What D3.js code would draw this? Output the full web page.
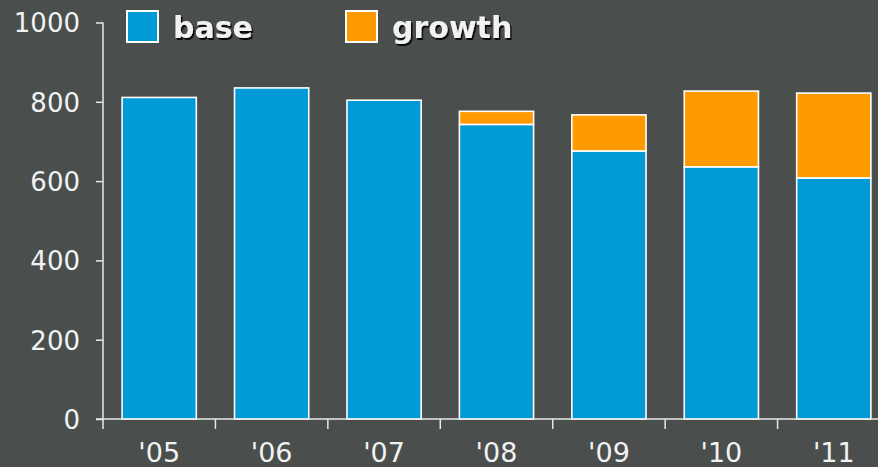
<!DOCTYPE html>
<html>
<head>
<meta charset="utf-8">
<script src="https://cdn.jsdelivr.net/npm/d3@7"></script>
<style>
  body { margin: 0; background: #4a4e4d; }
  svg { display: block; }
  text { font-family: "DejaVu Sans", Verdana, sans-serif; fill: #f2f2f2; }
</style>
</head>
<body>
<div id="viz"></div>
<script>
let years = ["'05", "'06", "'07", "'08", "'09", "'10", "'11"];
let base = [811, 835, 804, 743, 676, 636, 608];
let growth = [0, 0, 0, 33, 91, 191, 214];
let series_names = ['base', 'growth'];
let colors = ['#009bd6', '#ff9a00'];
let y_ticks = [0, 200, 400, 600, 800, 1000];

const width = 878, height = 467;
const x0 = 103, x1 = 890, y_bottom = 419, y_top = 22.5;

const svg = d3.select('#viz').append('svg')
    .attr('width', width)
    .attr('height', height);

svg.append('rect').attr('width', width).attr('height', height).attr('fill', '#4a4e4d');

const x = d3.scaleBand().domain(years).range([x0, x1]).paddingInner(0.34).paddingOuter(0.17);
const y = d3.scaleLinear().domain([0, 1000]).range([y_bottom, y_top]);

// stacked data
let rows = years.map((yr, i) => ({year: yr, base: base[i], growth: growth[i]}));
let stacked = d3.stack().keys(series_names)(rows);

const defs = svg.append('defs');
defs.append('filter').attr('id', 'shadow')
    .append('feDropShadow')
    .attr('dx', 1.5).attr('dy', 2).attr('stdDeviation', 0.6)
    .attr('flood-color', '#000').attr('flood-opacity', 0.9);

svg.append('g')
    .selectAll('g')
    .data(stacked)
    .join('g')
    .attr('fill', (d, i) => colors[i])
    .selectAll('rect')
    .data(d => d.filter(s => s[1] - s[0] > 0))
    .join('rect')
    .attr('x', d => x(d.data.year))
    .attr('width', x.bandwidth())
    .attr('y', d => y(d[1]))
    .attr('height', d => y(d[0]) - y(d[1]))
    .attr('stroke', '#ffffff')
    .attr('stroke-width', 1.6);

// y axis
const yAxis = svg.append('g')
    .attr('transform', 'translate(' + x0 + ',0)')
    .call(d3.axisLeft(y).tickValues(y_ticks).tickSize(7).tickPadding(16).tickFormat(d3.format('d')));
yAxis.select('.domain').attr('stroke', '#e8e8e8').attr('stroke-width', 1.5).attr('d', 'M0,' + y_top + 'V' + y_bottom);
yAxis.selectAll('.tick line').attr('stroke', '#e8e8e8').attr('stroke-width', 1.5);
yAxis.selectAll('.tick text').attr('font-size', 26).attr('fill', '#f2f2f2').attr('dy', '0.36em');

// x axis: ticks on band boundaries
const xAxis = svg.append('g')
    .attr('transform', 'translate(0,' + y_bottom + ')');
xAxis.append('line')
    .attr('x1', x0 - 7).attr('x2', width)
    .attr('stroke', '#e8e8e8').attr('stroke-width', 1.5);
let step = x.step();
xAxis.selectAll('line.tk')
    .data(d3.range(years.length + 1))
    .join('line')
    .attr('class', 'tk')
    .attr('x1', i => x0 + i * step).attr('x2', i => x0 + i * step)
    .attr('y1', 0).attr('y2', 10)
    .attr('stroke', '#e8e8e8').attr('stroke-width', 1.5);
xAxis.selectAll('text')
    .data(years)
    .join('text')
    .attr('x', d => x(d) + x.bandwidth() / 2)
    .attr('y', 43)
    .attr('text-anchor', 'middle')
    .attr('font-size', 27)
    .text(d => d);

// legend
const legend = svg.append('g');
let legend_x = [127, 346];
legend.selectAll('rect')
    .data(series_names)
    .join('rect')
    .attr('x', (d, i) => legend_x[i])
    .attr('y', 11)
    .attr('width', 31).attr('height', 31)
    .attr('fill', (d, i) => colors[i])
    .attr('stroke', '#ffffff').attr('stroke-width', 2);
legend.selectAll('text')
    .data(series_names)
    .join('text')
    .attr('x', (d, i) => legend_x[i] + 46)
    .attr('y', 38)
    .attr('font-size', 30)
    .attr('font-weight', 'bold')
    .attr('filter', 'url(#shadow)')
    .text(d => d);
</script>
</body>
</html>
